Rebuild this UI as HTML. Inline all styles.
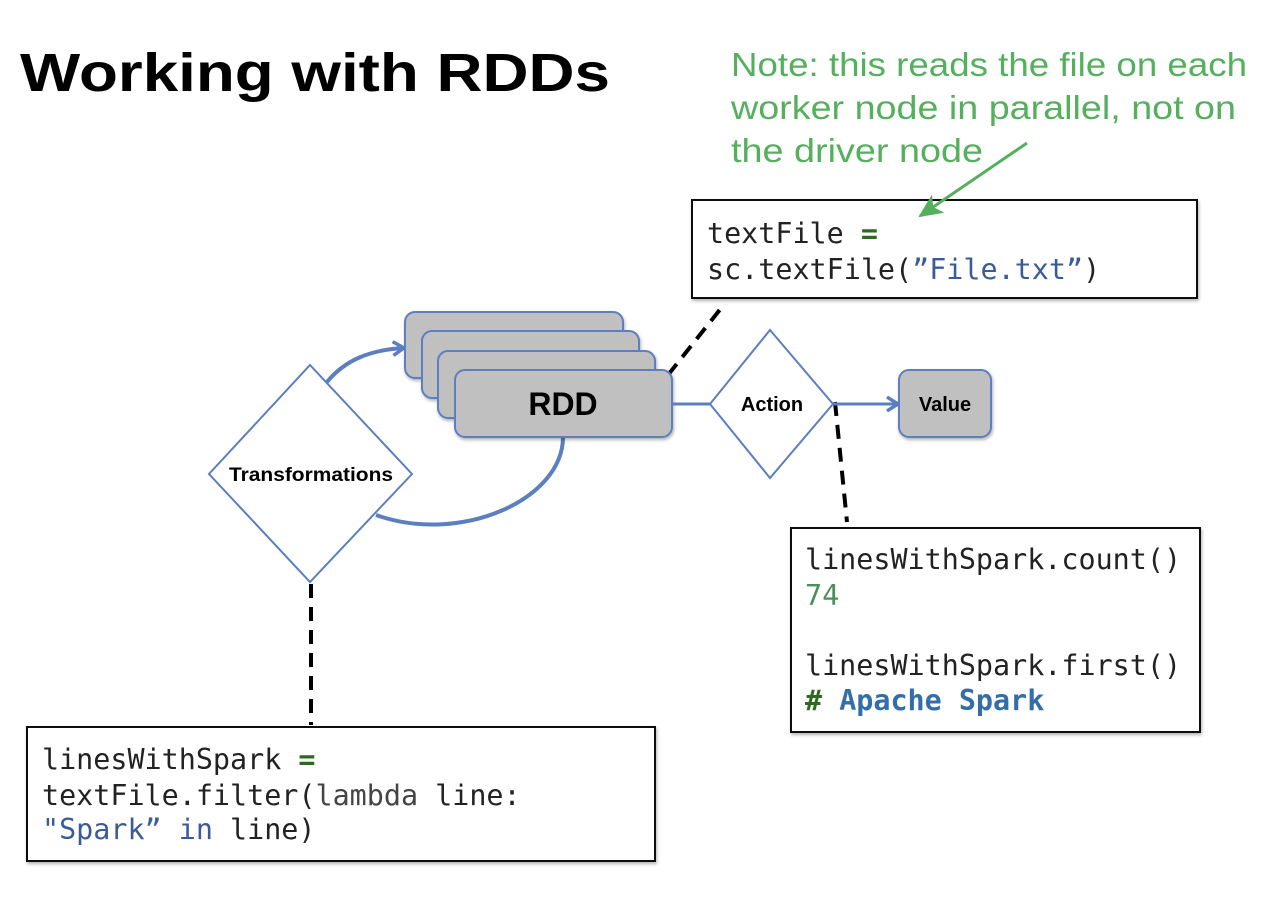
<!DOCTYPE html>
<html><head><meta charset="utf-8"><style>
html,body{margin:0;padding:0;background:#fff;}
svg{display:block;}
.m{font-family:"DejaVu Sans Mono","Liberation Mono",monospace;font-size:28.4px;}
</style></head><body>
<svg width="1262" height="898" viewBox="0 0 1262 898" xmlns="http://www.w3.org/2000/svg">
<defs>
<marker id="ab" markerWidth="14" markerHeight="16" refX="11" refY="8" orient="auto" markerUnits="userSpaceOnUse"><path d="M1,1 L12,8 L1,15" fill="none" stroke="#5b7fbf" stroke-width="3.5"/></marker>
<marker id="ag" markerWidth="26" markerHeight="24" refX="22" refY="12" orient="auto" markerUnits="userSpaceOnUse"><path d="M0,1 L24,12 L0,23 L6,12 Z" fill="#55b05e"/></marker>
<filter id="sh" x="-10%" y="-10%" width="120%" height="130%"><feDropShadow dx="1" dy="2" stdDeviation="1.5" flood-color="#000" flood-opacity="0.3"/></filter>
</defs>
<text x="20" y="91" font-family="Liberation Sans, sans-serif" font-weight="bold" font-size="54" textLength="590" lengthAdjust="spacingAndGlyphs">Working with RDDs</text>
<g font-family="Liberation Sans, sans-serif" font-size="33" fill="#55b05e">
<text x="731" y="76" textLength="516" lengthAdjust="spacingAndGlyphs">Note: this reads the file on each</text>
<text x="731" y="119" textLength="505" lengthAdjust="spacingAndGlyphs">worker node in parallel, not on</text>
<text x="731" y="162" textLength="252" lengthAdjust="spacingAndGlyphs">the driver node</text>
</g>
<!-- dashed lines -->
<g stroke="#000" stroke-width="4" stroke-dasharray="14,9" fill="none">
<line x1="668" y1="375" x2="722" y2="307"/>
<line x1="835" y1="402" x2="847" y2="522"/>
<line x1="311" y1="584" x2="311" y2="725"/>
</g>
<!-- curves -->
<path d="M327,382 C345,360 370,350 403,348" fill="none" stroke="#5b7fbf" stroke-width="4" marker-end="url(#ab)"/>
<path d="M563,437 C563,500 460,545 376,515" fill="none" stroke="#5b7fbf" stroke-width="4"/>
<!-- RDD stack -->
<g fill="#c0c0c0" stroke="#5b7fbf" stroke-width="2" filter="url(#sh)">
<rect x="405" y="312" width="218" height="66" rx="10"/>
<rect x="422" y="331" width="217" height="67" rx="10"/>
<rect x="438" y="351" width="217" height="67" rx="10"/>
<rect x="455" y="370" width="217" height="67" rx="10"/>
</g>
<text x="563" y="415" text-anchor="middle" font-family="Liberation Sans, sans-serif" font-weight="bold" font-size="32">RDD</text>
<!-- transformations diamond -->
<polygon points="310,365 412,474 310,582 209,474" fill="#fff" stroke="#5b7fbf" stroke-width="2"/>
<text x="311" y="481" text-anchor="middle" font-family="Liberation Sans, sans-serif" font-weight="bold" font-size="19" textLength="164" lengthAdjust="spacingAndGlyphs">Transformations</text>
<!-- action -->
<line x1="672" y1="404" x2="710" y2="404" stroke="#5b7fbf" stroke-width="3"/>
<polygon points="770,330 833,404 770,478 710,404" fill="#fff" stroke="#5b7fbf" stroke-width="2"/>
<text x="772" y="411" text-anchor="middle" font-family="Liberation Sans, sans-serif" font-weight="bold" font-size="20">Action</text>
<line x1="833" y1="404" x2="897" y2="404" stroke="#5b7fbf" stroke-width="3" marker-end="url(#ab)"/>
<rect x="899" y="370" width="92" height="67" rx="10" fill="#c0c0c0" stroke="#5b7fbf" stroke-width="2" filter="url(#sh)"/>
<text x="945" y="411" text-anchor="middle" font-family="Liberation Sans, sans-serif" font-weight="bold" font-size="20">Value</text>
<!-- code boxes -->
<g fill="#fff" stroke="#111" stroke-width="2" filter="url(#sh)">
<rect x="692" y="200" width="505" height="98"/>
<rect x="791" y="528" width="409" height="204"/>
<rect x="27" y="727" width="628" height="134"/>
</g>
<line x1="1027" y1="143" x2="920" y2="216" stroke="#55b05e" stroke-width="3" marker-end="url(#ag)"/>
<text class="m" x="707" y="243" fill="#222">textFile <tspan fill="#2d6a1f" font-weight="bold">=</tspan></text>
<text class="m" x="707" y="279" fill="#222">sc.textFile(<tspan fill="#3b5a9a">”File.txt”</tspan>)</text>
<text class="m" x="805" y="569" fill="#222">linesWithSpark.count()</text>
<text class="m" x="805" y="605" fill="#4a8f5a">74</text>
<text class="m" x="805" y="675" fill="#222">linesWithSpark.first()</text>
<text class="m" x="805" y="710" font-weight="bold"><tspan fill="#2d6a1f">#</tspan> <tspan fill="#336ea8">Apache Spark</tspan></text>
<text class="m" x="42" y="769" fill="#222">linesWithSpark <tspan fill="#2d6a1f" font-weight="bold">=</tspan></text>
<text class="m" x="42" y="805" fill="#222">textFile.filter(<tspan fill="#444">lambda</tspan> line:</text>
<text class="m" x="42" y="839" fill="#222"><tspan fill="#3b5a9a">"Spark” in</tspan> line)</text>
</svg>
</body></html>
